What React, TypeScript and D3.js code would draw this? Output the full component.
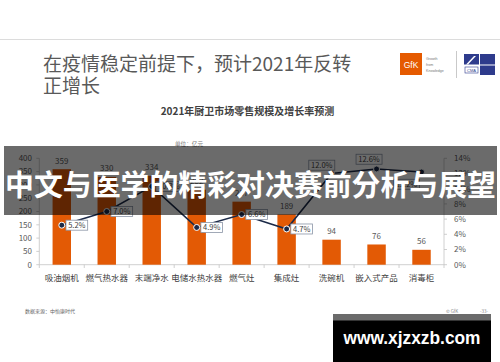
import React from 'react';
import * as d3 from 'd3';

const categories = ['吸油烟机', '燃气热水器', '末端净水', '电储水热水器', '燃气灶', '集成灶', '洗碗机', '嵌入式产品', '消毒柜'];
const sales = [359, 330, 334, 282, 237, 189, 94, 76, 56];
const growth = [5.2, 7.0, 10.3, 4.9, 6.6, 4.7, 12.0, 12.6, 12.2];
const leftTicks = [0, 50, 100, 150, 200, 250, 300, 350, 400];
const rightTicks = [0, 2, 4, 6, 8, 10, 12, 14];
const labelPlacement = ['right', 'right', 'right', 'right', 'right', 'right', 'aboveLeft', 'above', 'belowLeft'];

const FONT = '"Noto Sans CJK SC", "Noto Sans", sans-serif';
const ORANGE = '#E35A05';
const NAVY = '#1c2a48';
const AXIS = '#c4c4c4';

export default function App() {
  const x = d3.scaleBand<string>().domain(categories).range([39.3, 444]).paddingInner(0.59).paddingOuter(0.295);
  const yL = d3.scaleLinear().domain([0, 400]).range([264.7, 158.3]);
  const yR = d3.scaleLinear().domain([0, 14]).range([264.7, 158.3]);
  const step = x.step();
  const x0 = 39.3;
  const cx = (c: string) => (x(c) as number) + x.bandwidth() / 2;

  const line = d3.line<number>().x((_, i) => cx(categories[i])).y((d) => yR(d));

  const boxFor = (i: number) => {
    const px = cx(categories[i]);
    const py = yR(growth[i]);
    const txt = growth[i].toFixed(1) + '%';
    const w = txt.length * 4.3 + 4.5;
    const h = 10;
    const p = labelPlacement[i];
    let bx = px + 4.2;
    let by = py - h / 2;
    if (p === 'aboveLeft') { bx = px - 9.8 - w / 2; by = py - 3.3 - h; }
    if (p === 'above') { bx = px - 7.5 - w / 2; by = py - 4.7 - h; }
    if (p === 'belowLeft') { bx = px - 15 - w / 2; by = py + 7.3; }
    return { bx, by, w, h, txt };
  };

  return (
    <svg width={500} height={362} style={{ position: 'absolute', left: 0, top: 0, background: '#fff' }} fontFamily={FONT}>
      <rect x={0} y={0} width={500} height={362} fill="#fff" />
      <line x1={0} x2={500} y1={39.5} y2={39.5} stroke="#dcdcdc" strokeWidth={1} />

      {/* Title */}
      <text x={43} y={71} fontSize={19} fill="#595959">在疫情稳定前提下，预计2021年反转</text>
      <text x={43} y={93} fontSize={19} fill="#595959">正增长</text>

      {/* GfK logo */}
      <rect x={400} y={53} width={22} height={22} fill="#E55A00" />
      <text x={411} y={67.5} fontSize={8.5} fill="#fff" textAnchor="middle" fontFamily="Liberation Sans, sans-serif">GfK</text>
      <text x={426} y={60} fontSize={3.6} fill="#777" fontFamily="Liberation Sans, sans-serif">Growth</text>
      <text x={426} y={66} fontSize={3.6} fill="#777" fontFamily="Liberation Sans, sans-serif">from</text>
      <text x={426} y={72} fontSize={3.6} fill="#777" fontFamily="Liberation Sans, sans-serif">Knowledge</text>
      <line x1={456.5} x2={456.5} y1={51} y2={78} stroke="#bbb" strokeWidth={0.8} />
      <rect x={464} y={54} width={15} height={10.5} fill="#2e3b8c" />
      <path d="M466,64.5 L474,56 L476,56 L468,64.5 Z" fill="#fff" />
      <rect x={480} y={54} width={15} height={10.5} fill="#2e3b8c" />
      <rect x={480} y={65.5} width={15} height={9.5} fill="#2e3b8c" />
      <rect x={465} y={67} width={13} height={6} fill="#fff" stroke="#2e3b8c" strokeWidth={0.6} />
      <text x={471.5} y={71.8} fontSize={4} fill="#2e3b8c" textAnchor="middle" fontFamily="Liberation Sans, sans-serif">CMA</text>

      {/* Chart title */}
      <text x={247.5} y={115} fontSize={10} fontWeight={700} fill="#404040" textAnchor="middle">2021年厨卫市场零售规模及增长率预测</text>
      <text x={175} y={146} fontSize={5.6} fill="#777">单位：亿元</text>

      {/* Axes */}
      <line x1={x0} x2={x0} y1={158.3} y2={264.7} stroke={AXIS} strokeWidth={0.8} />
      <line x1={444} x2={444} y1={158.3} y2={264.7} stroke={AXIS} strokeWidth={0.8} />
      <line x1={x0} x2={444} y1={264.7} y2={264.7} stroke={AXIS} strokeWidth={0.8} />
      {leftTicks.map((t) => (
        <g key={'l' + t}>
          <line x1={x0 - 3} x2={x0} y1={yL(t)} y2={yL(t)} stroke={AXIS} strokeWidth={0.8} />
          <text x={32} y={yL(t) + 2.8} fontSize={8} fill="#595959" textAnchor="end">{t}</text>
        </g>
      ))}
      {rightTicks.map((t) => (
        <g key={'r' + t}>
          <line x1={444} x2={447} y1={yR(t)} y2={yR(t)} stroke={AXIS} strokeWidth={0.8} />
          <text x={454} y={yR(t) + 2.8} fontSize={8} fill="#595959">{t}%</text>
        </g>
      ))}
      {d3.range(categories.length + 1).map((i) => (
        <line key={'b' + i} x1={x0 + i * step} x2={x0 + i * step} y1={264.7} y2={268} stroke={AXIS} strokeWidth={0.8} />
      ))}

      {/* Bars */}
      {categories.map((c, i) => (
        <g key={c}>
          <rect x={x(c)} y={yL(sales[i])} width={x.bandwidth()} height={yL(0) - yL(sales[i])} fill={ORANGE} />
          <text x={cx(c)} y={yL(sales[i]) - 5.5} fontSize={8} fill="#595959" textAnchor="middle">{sales[i]}</text>
          <text x={cx(c)} y={281} fontSize={8.5} fill="#404040" textAnchor="middle">{c}</text>
        </g>
      ))}

      {/* Growth line */}
      <path d={line(growth) || ''} fill="none" stroke={NAVY} strokeWidth={1.6} />
      {growth.map((g, i) => (
        <circle key={'c' + i} cx={cx(categories[i])} cy={yR(g)} r={3} fill={NAVY} stroke="#fff" strokeWidth={1} />
      ))}
      {growth.map((g, i) => {
        const b = boxFor(i);
        return (
          <g key={'lb' + i}>
            <rect x={b.bx} y={b.by} width={b.w} height={b.h} fill="#fff" stroke="#8a94a6" strokeWidth={0.8} />
            <text x={b.bx + b.w / 2} y={b.by + b.h / 2 + 2.7} fontSize={7.5} fill="#404040" textAnchor="middle">{b.txt}</text>
          </g>
        );
      })}

      {/* Footer */}
      <text x={25} y={313} fontSize={5} fill="#666">数据来源：中怡康时代</text>
      <text x={446} y={313} fontSize={4.5} fill="#888">© GfK</text>
      <text x={480} y={313} fontSize={4.5} fill="#888">-33-</text>

      {/* Banner overlay */}
      <rect x={4} y={146} width={493} height={69} fill="#000" fillOpacity={0.58} />
      <text x={5} y={196} fontSize={29} fontWeight={700} fill="#fff" textLength={491} lengthAdjust="spacingAndGlyphs">中文与医学的精彩对决赛前分析与展望</text>

      {/* Watermark */}
      <rect x={333} y={314} width={158} height={48} fill="#000" />
      <rect x={333} y={314} width={158} height={6.5} fill="#6b6b6b" />
      <text x={343.5} y={343.5} fontSize={19} fontWeight={700} fill="#fff" fontFamily="Liberation Sans, sans-serif" textLength={137} lengthAdjust="spacingAndGlyphs">www.xjzxzb.com</text>
    </svg>
  );
}
